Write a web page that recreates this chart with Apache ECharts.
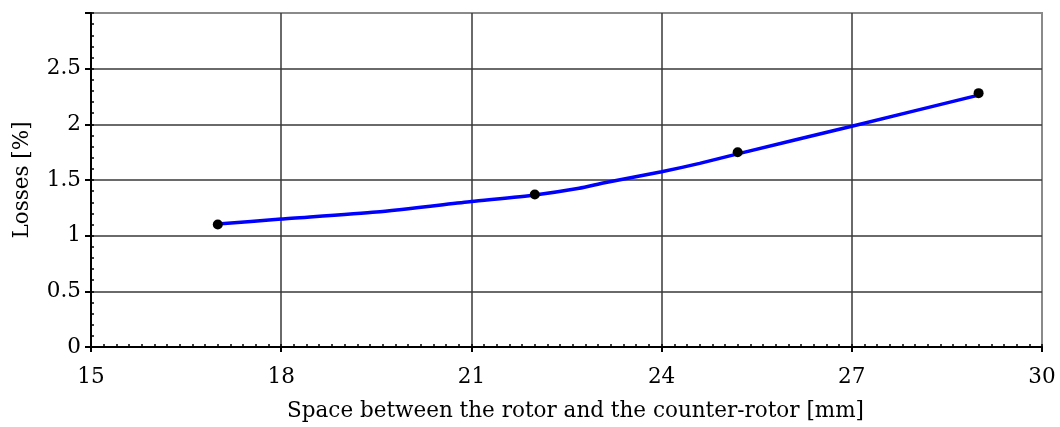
<!DOCTYPE html>
<html>
<head>
<meta charset="utf-8">
<script src="https://cdn.jsdelivr.net/npm/echarts@6/dist/echarts.min.js"></script>
<style>
  html, body { margin: 0; padding: 0; background: #ffffff; }
  #chart { width: 1060px; height: 427px; }
</style>
</head>
<body>
<div id="chart"></div>
<script>
// Measured points: gap between rotor and counter-rotor [mm] vs losses [%]
const spaceMm = [17, 22, 25.2, 29];
const lossesPct = [1.10, 1.37, 1.75, 2.28];

// Fitted trend curve drawn through the measurements
const curveX = [17, 18, 19.5, 21, 22, 22.7, 23.1, 24, 24.6, 25.2, 27, 29];
const curveY = [1.104, 1.149, 1.212, 1.306, 1.366, 1.426, 1.476, 1.574, 1.649, 1.735, 1.983, 2.262];

// Axis settings
const xTicks = [15, 18, 21, 24, 27, 30];
const yTicks = [0, 0.5, 1, 1.5, 2, 2.5];
const xTitle = 'Space between the rotor and the counter-rotor [mm]';
const yTitle = 'Losses [%]';

const serif = '"DejaVu Serif", "Liberation Serif", serif';
const ink = '#000000';

const chart = echarts.init(document.getElementById('chart'), null, { renderer: 'canvas' });

const majorX = {
  type: 'value', gridIndex: 0, position: 'bottom',
  min: xTicks[0], max: xTicks[xTicks.length - 1], interval: 3,
  name: xTitle, nameLocation: 'middle', nameGap: 53,
  nameTextStyle: { fontFamily: serif, fontSize: 21.5, color: ink, padding: [0, 0, 0, 18] },
  axisLine: { show: true, lineStyle: { color: ink, width: 2 } },
  axisTick: { show: true, inside: false, length: 5, lineStyle: { color: ink, width: 2 } },
  axisLabel: { show: true, margin: 19, fontFamily: serif, fontSize: 21.5, color: ink },
  splitLine: { show: true, showMinLine: false, showMaxLine: false, lineStyle: { color: '#383838', width: 1.5 } }
};
const minorX = {
  type: 'value', gridIndex: 0, position: 'bottom',
  min: xTicks[0], max: xTicks[xTicks.length - 1], interval: 0.2,
  axisLine: { show: false },
  axisTick: { show: true, inside: true, length: 3, lineStyle: { color: ink, width: 1.5 } },
  axisLabel: { show: false },
  splitLine: { show: false }
};
const majorY = {
  type: 'value', gridIndex: 0, position: 'left',
  min: 0, max: 3, interval: 0.5,
  name: yTitle, nameLocation: 'middle', nameGap: 58,
  nameTextStyle: { fontFamily: serif, fontSize: 21.5, color: ink },
  axisLine: { show: true, lineStyle: { color: ink, width: 2 } },
  axisTick: { show: true, inside: false, length: 6, lineStyle: { color: ink, width: 2 } },
  axisLabel: {
    show: true, margin: 10, fontFamily: serif, fontSize: 21.5, color: ink,
    formatter: v => (yTicks.indexOf(v) >= 0 ? String(v) : '')
  },
  splitLine: { show: true, showMinLine: false, showMaxLine: false, lineStyle: { color: '#383838', width: 1.5 } }
};
const minorY = {
  type: 'value', gridIndex: 0, position: 'left',
  min: 0, max: 3, interval: 0.1,
  axisLine: { show: false },
  axisTick: { show: true, inside: true, length: 3, lineStyle: { color: ink, width: 1.5 } },
  axisLabel: { show: false },
  splitLine: { show: false }
};

chart.setOption({
  animation: false,
  backgroundColor: '#ffffff',
  grid: {
    left: 91, right: 18, top: 13, bottom: 79,
    show: true, borderColor: '#8a8a8a', borderWidth: 2, backgroundColor: 'transparent'
  },
  xAxis: [majorX, minorX],
  yAxis: [majorY, minorY],
  series: [
    {
      type: 'line', xAxisIndex: 0, yAxisIndex: 0,
      data: curveX.map((x, i) => [x, curveY[i]]),
      showSymbol: false, smooth: 0.2,
      lineStyle: { color: '#0000ff', width: 3.5 },
      z: 3
    },
    {
      type: 'scatter', xAxisIndex: 0, yAxisIndex: 0,
      data: spaceMm.map((x, i) => [x, lossesPct[i]]),
      symbol: 'circle', symbolSize: 10,
      itemStyle: { color: '#000000', opacity: 1 },
      z: 4
    }
  ]
});
</script>
</body>
</html>
